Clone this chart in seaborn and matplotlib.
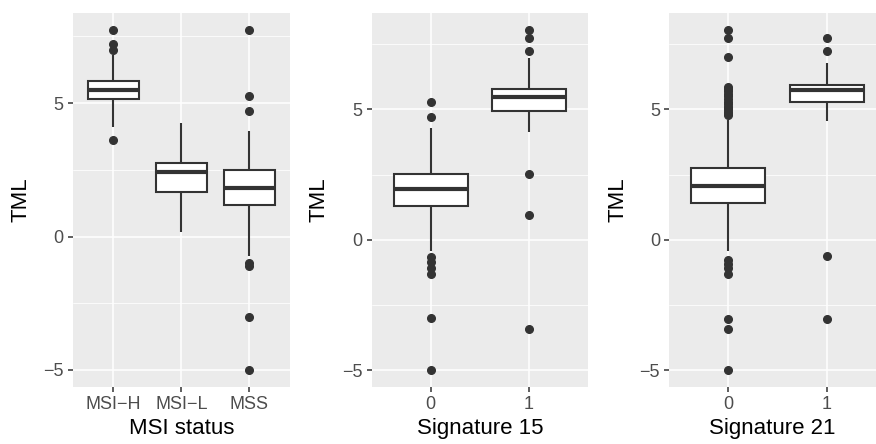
import numpy as np
import pandas as pd
import matplotlib
matplotlib.use("Agg")
import matplotlib.pyplot as plt
import seaborn as sns

# ---- data (box summaries + outliers) ----
msi_groups = ["MSI\u2212H", "MSI\u2212L", "MSS"]
msi_whis_lo = [4.11, 0.16, -0.71]
msi_q1 = [5.14, 1.67, 1.17]
msi_med = [5.51, 2.43, 1.83]
msi_q3 = [5.84, 2.76, 2.48]
msi_whis_hi = [6.80, 4.27, 3.96]
msi_outliers = [[7.74, 7.23, 7.00, 3.61],
                [],
                [7.74, 5.28, 4.71, -1.00, -1.10, -3.01, -5.00]]

sig15_groups = ["0", "1"]
sig15_whis_lo = [-0.43, 4.12]
sig15_q1 = [1.30, 4.94]
sig15_med = [1.94, 5.48]
sig15_q3 = [2.53, 5.77]
sig15_whis_hi = [4.27, 6.97]
sig15_outliers = [[5.29, 4.70, -0.67, -0.87, -1.07, -1.32, -3.01, -5.00],
                  [8.05, 7.75, 7.23, 2.53, 0.96, -3.44]]

sig21_groups = ["0", "1"]
sig21_whis_lo = [-0.43, 4.57]
sig21_q1 = [1.40, 5.27]
sig21_med = [2.06, 5.74]
sig21_q3 = [2.74, 5.94]
sig21_whis_hi = [4.60, 6.78]
sig21_outliers = [[8.05, 7.75, 7.01, 5.87, 5.80, 5.70, 5.60, 5.50, 5.40, 5.30,
                   5.20, 5.10, 5.05, 5.00, 4.90, 4.85, 4.80,
                   -0.78, -0.95, -1.10, -1.33, -3.03, -3.44, -5.00],
                  [7.75, 7.23, -0.62, -3.03]]


def build_table(groups, wlo, q1, med, q3, whi, outl, reps=60):
    rows = []
    for i, g in enumerate(groups):
        vals = [wlo[i]] + [q1[i]] * reps + [med[i]] * reps + [q3[i]] * reps + [whi[i]] + list(outl[i])
        rows += [(g, v) for v in vals]
    return pd.DataFrame(rows, columns=["group", "TML"])


panels = [
    (build_table(msi_groups, msi_whis_lo, msi_q1, msi_med, msi_q3, msi_whis_hi, msi_outliers),
     msi_groups, "MSI status"),
    (build_table(sig15_groups, sig15_whis_lo, sig15_q1, sig15_med, sig15_q3, sig15_whis_hi, sig15_outliers),
     sig15_groups, "Signature 15"),
    (build_table(sig21_groups, sig21_whis_lo, sig21_q1, sig21_med, sig21_q3, sig21_whis_hi, sig21_outliers),
     sig21_groups, "Signature 21"),
]

sns.set_theme(style="darkgrid")
plt.rcParams["font.family"] = ["Liberation Sans", "DejaVu Sans"]

W, H = 876, 444
fig = plt.figure(figsize=(W / 100, H / 100), dpi=100)
fig.patch.set_facecolor("white")

# axes boxes in pixels: (left, right, top, bottom)
boxes = [(72.7, 290.0, 13, 387), (371.7, 588.0, 13, 387), (669.0, 876.0, 13, 387)]
xlims = [(-0.6, 2.6), (-0.6, 1.6), (-0.6, 1.5)]
ylab_x = [-0.189, -0.193, -0.197]

line_c = "#333333"
for (df, order, xlabel), (l, r, t, b), xl, ylx in zip(panels, boxes, xlims, ylab_x):
    ax = fig.add_axes([l / W, (H - b) / H, (r - l) / W, (b - t) / H])
    ax.set_facecolor("#EBEBEB")
    sns.boxplot(data=df, x="group", y="TML", order=order, ax=ax,
                color="white", linecolor=line_c, linewidth=1.5, width=0.75,
                saturation=1, showcaps=False, fliersize=5.5,
                medianprops=dict(linewidth=3.0, color=line_c),
                flierprops=dict(marker="o", markerfacecolor=line_c,
                                markeredgecolor=line_c, markersize=5.5))
    ymin, ymax = df["TML"].min(), df["TML"].max()
    pad = 0.05 * (ymax - ymin)
    ax.set_ylim(ymin - pad, ymax + pad)
    ax.set_xlim(*xl)
    ax.set_yticks([-5, 0, 5])
    ax.set_yticks([-2.5, 2.5, 7.5], minor=True)
    ax.grid(True, which="major", color="white", linewidth=1.1)
    ax.grid(True, which="minor", axis="y", color="white", linewidth=0.55)
    ax.set_axisbelow(True)
    for s in ax.spines.values():
        s.set_visible(False)
    ax.tick_params(axis="both", which="major", length=3.5, width=1.1, color=line_c,
                   labelsize=13, labelcolor="#4D4D4D", pad=3,
                   bottom=True, left=True)
    ax.tick_params(axis="both", which="minor", length=0)
    ax.set_xlabel(xlabel, fontsize=16, color="black")
    ax.set_ylabel("TML", fontsize=16, color="black")
    ax.xaxis.set_label_coords(0.5, -0.083)
    ax.yaxis.set_label_coords(ylx, 0.5)

fig.savefig("out.png", dpi=100, facecolor="white")
